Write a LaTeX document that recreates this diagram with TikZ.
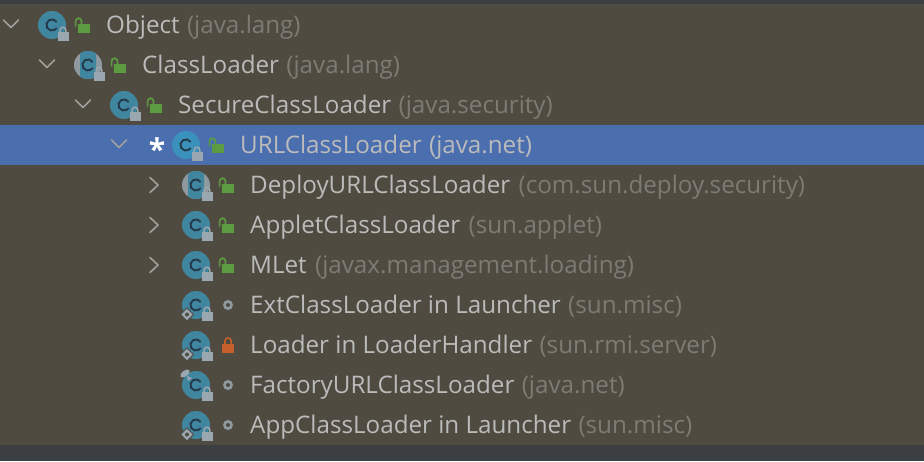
\documentclass[tikz,border=0pt]{standalone}
\usepackage{fontspec}
\setmainfont{Open Sans}
\definecolor{panelbg}{HTML}{4F4B41}
\definecolor{barbg}{HTML}{3C3F41}
\definecolor{selbg}{HTML}{4B6EAF}
\definecolor{nametxt}{HTML}{BBBBBB}
\definecolor{pkgtxt}{HTML}{7C7B74}
\definecolor{tealc}{HTML}{40869F}
\definecolor{tealsel}{HTML}{3A92BC}
\definecolor{letterc}{HTML}{243A4A}
\definecolor{padgrey}{HTML}{9AA7B0}
\definecolor{lockgreen}{HTML}{5D9B41}
\definecolor{lockred}{HTML}{C75F2C}
\definecolor{chevgrey}{HTML}{A0A09C}
\tikzset{
  namelabel/.style={anchor=base west, inner sep=0pt, text=nametxt, font=\fontsize{24.2}{28}\selectfont},
  pkglabel/.style={anchor=base west, inner sep=0pt, text=pkgtxt, font=\fontsize{24.2}{28}\selectfont},
  chevline/.style={draw=chevgrey, line width=1.6pt, line cap=round, line join=round},
}
% letter and small padlock of a class icon
\newcommand{\padglyph}[2]{%
  \draw[letterc, line width=1.9pt] (#1+4.7,#2-3) arc (-32:-328:5.6);
  \fill[padgrey] (#1+5.5,#2+7) rectangle (#1+16.5,#2+16);
  \draw[padgrey, line width=1.5pt] (#1+8.2,#2+8) -- (#1+8.2,#2+5) arc (180:360:2.8) -- (#1+13.8,#2+8);
}
\newcommand{\classglyph}[3][tealc]{%
  \fill[#1] (#2,#3) circle (14);
  \padglyph{#2}{#3}
}
\newcommand{\abstractglyph}[2]{%
  \fill[padgrey!85!panelbg] (#1,#2) circle (14);
  \begin{scope}
    \clip (#1-8,#2-14) rectangle (#1+8,#2+14);
    \fill[tealc] (#1,#2) circle (14);
  \end{scope}
  \padglyph{#1}{#2}
}
\newcommand{\openlock}[2]{%
  \fill[lockgreen] (#1-2.3,#2-1.2) rectangle (#1+10,#2+8.2);
  \draw[lockgreen, line width=1.7pt] (#1-4.4,#2+1.5) -- (#1-4.4,#2-3.8) arc (180:360:2.9) -- (#1+1.4,#2-1);
}
\begin{document}
\begin{tikzpicture}[x=1pt, y=-1pt]
  \useasboundingbox (0,0) rectangle (924,461);
  \fill[panelbg] (0,0) rectangle (924,461);
  \fill[barbg] (0,0) rectangle (924,4);
  \fill[barbg] (0,445) rectangle (924,461);
  \fill[selbg] (0,125) rectangle (924,165);
  % chevrons
  \foreach \x/\y in {11/25, 47/65, 83/105, 119/145}{
    \draw[chevline] (\x-7.5,\y-5) -- (\x,\y+2.5) -- (\x+7.5,\y-5);
  }
  \foreach \y in {185, 225, 265}{
    \draw[chevline] (150,\y-7.5) -- (158,\y) -- (150,\y+7.5);
  }
  % class circles
  \classglyph{52}{25}
  \abstractglyph{88}{65}
  \classglyph{124}{105}
  \classglyph[tealsel]{186}{145}
  \abstractglyph{196}{185}
  \classglyph{196}{225}
  \classglyph{196}{265}
  \foreach \y in {305, 345, 385, 425}{
    \classglyph{196}{\y}
  }
  % final marker
  \foreach \y in {305, 345, 425}{
    \fill[padgrey, draw=panelbg, line width=1pt] (187,\y+3) -- (193.5,\y+9.5) -- (187,\y+16) -- (180.5,\y+9.5) -- cycle;
    \fill[panelbg] (187,\y+9.5) circle (2);
  }
  % factory marker
  \fill[padgrey, rotate around={35:(185,373.5)}] (185,373.5) ellipse (5.5 and 3);
  \fill[padgrey] (187,376) -- (192,378) -- (188,381) -- cycle;
  % open locks
  \foreach \x/\y in {80/25, 116/65, 152/105, 214/145, 224/185, 224/225, 224/265}{
    \openlock{\x}{\y}
  }
  % package dots
  \foreach \y in {305, 385, 425}{
    \draw[padgrey!85!panelbg, line width=2.6pt] (228,\y) circle (3.6);
  }
  % private lock
  \fill[lockred] (222.3,343.5) rectangle (234,352.7);
  \draw[lockred, line width=1.6pt] (225,344) -- (225,341) arc (180:360:3.1) -- (231.2,344);
  % labels
  \node[namelabel] (objname) at (106,33) {Object};
  \node[pkglabel] (objpkg) at ([xshift=7pt]objname.base east) {(java.lang)};
  \node[namelabel] (clname) at (142,73) {ClassLoader};
  \node[pkglabel] (clpkg) at ([xshift=7pt]clname.base east) {(java.lang)};
  \node[namelabel] (secname) at (178,113) {SecureClassLoader};
  \node[pkglabel] (secpkg) at ([xshift=7pt]secname.base east) {(java.security)};
  \node[font=\bfseries\fontsize{30}{30}\selectfont, text=white, inner sep=0pt] (star) at (157,149) {*};
  \node[namelabel] (urlname) at (240,153) {URLClassLoader};
  \node[namelabel] (urlpkg) at ([xshift=7pt]urlname.base east) {(java.net)};
  \node[namelabel] (depname) at (250,193) {DeployURLClassLoader};
  \node[pkglabel] (deppkg) at ([xshift=8pt]depname.base east) {(com.sun.deploy.security)};
  \node[namelabel] (appletname) at (250,233) {AppletClassLoader};
  \node[pkglabel] (appletpkg) at ([xshift=8pt]appletname.base east) {(sun.applet)};
  \node[namelabel] (mletname) at (250,273) {MLet};
  \node[pkglabel] (mletpkg) at ([xshift=8pt]mletname.base east) {(javax.management.loading)};
  \node[namelabel] (extname) at (250,313) {ExtClassLoader in Launcher};
  \node[pkglabel] (extpkg) at ([xshift=7pt]extname.base east) {(sun.misc)};
  \node[namelabel] (loadname) at (250,353) {Loader in LoaderHandler};
  \node[pkglabel] (loadpkg) at ([xshift=7pt]loadname.base east) {(sun.rmi.server)};
  \node[namelabel] (factname) at (250,393) {FactoryURLClassLoader};
  \node[pkglabel] (factpkg) at ([xshift=7pt]factname.base east) {(java.net)};
  \node[namelabel] (appname) at (250,433) {AppClassLoader in Launcher};
  \node[pkglabel] (apppkg) at ([xshift=7pt]appname.base east) {(sun.misc)};
\end{tikzpicture}
\end{document}
